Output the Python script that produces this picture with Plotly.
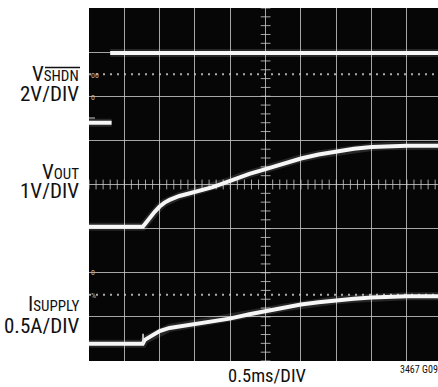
import numpy as np
import plotly.graph_objects as go

# ---- data (time in ms, 0.5 ms/div; vertical values in screen divisions from bottom) ----
vshdn_low_t = [0.0, 0.32]
vshdn_low = [5.40, 5.40]
vshdn_high_t = [0.30, 4.94]
vshdn_high = [6.98, 6.98]

vout_t = [0, 0.76, 0.79, 0.83, 0.87, 0.93, 1.00, 1.07, 1.14, 1.21, 1.28, 1.40, 1.52,
          1.64, 1.75, 1.87, 1.99, 2.13, 2.27, 2.50, 2.75, 3.00, 3.25, 3.50, 3.75,
          4.00, 4.25, 4.50, 4.94]
vout = [3.04, 3.04, 3.10, 3.19, 3.28, 3.38, 3.50, 3.59, 3.65, 3.70, 3.74, 3.79, 3.84,
        3.89, 3.94, 4.01, 4.08, 4.17, 4.24, 4.35, 4.48, 4.59, 4.68, 4.75, 4.81,
        4.85, 4.87, 4.88, 4.88]

isupply_t = [0, 0.76, 0.79, 0.86, 0.93, 1.00, 1.14, 1.33, 1.52, 1.75, 1.99, 2.27, 2.50,
             2.75, 3.00, 3.25, 3.50, 3.75, 4.00, 4.50, 4.94]
isupply = [0.39, 0.39, 0.48, 0.54, 0.62, 0.68, 0.75, 0.80, 0.85, 0.90, 0.96, 1.06, 1.13,
           1.21, 1.28, 1.33, 1.375, 1.41, 1.44, 1.47, 1.47]
isupply_glitch_t = [0.765, 0.765]
isupply_glitch = [0.40, 0.62]

W, H = 438, 387
ML, MR, MT, MB = 89, 0, 8, 26
XMAX = 4.94
FONT = "Liberation Sans Narrow, Arial Narrow, Roboto Condensed, Liberation Sans, Arial, sans-serif"

fig = go.Figure()

grid_col = "rgba(205,205,205,0.8)"

# dotted reference lines
for yv in (1.5, 6.5):
    fig.add_trace(go.Scatter(x=[0, XMAX], y=[yv, yv], mode="lines",
                             line=dict(color="rgba(200,200,200,0.85)", width=2, dash="2px,5px"),
                             hoverinfo="skip", showlegend=False))

# minor ticks on center graticule lines
mx = np.arange(0, XMAX, 0.1)
fig.add_trace(go.Scatter(x=mx, y=[4] * len(mx), mode="markers",
                         marker=dict(symbol="line-ns", size=7, line=dict(color=grid_col, width=1)),
                         hoverinfo="skip", showlegend=False))
my = np.arange(0, 8.01, 0.2)
fig.add_trace(go.Scatter(x=[2.5] * len(my), y=my, mode="markers",
                         marker=dict(symbol="line-ew", size=7, line=dict(color=grid_col, width=1)),
                         hoverinfo="skip", showlegend=False))

def trace(t, v, w=4):
    fig.add_trace(go.Scatter(x=t, y=v, mode="lines",
                             line=dict(color="rgba(255,255,255,0.13)", width=w + 4),
                             hoverinfo="skip", showlegend=False))
    fig.add_trace(go.Scatter(x=t, y=v, mode="lines",
                             line=dict(color="#f6f6f6", width=w),
                             hoverinfo="skip", showlegend=False))

trace(vshdn_low_t, vshdn_low)
trace(vshdn_high_t, vshdn_high)
trace(vout_t, vout)
trace(isupply_t, isupply)
fig.add_trace(go.Scatter(x=isupply_glitch_t, y=isupply_glitch, mode="lines",
                         line=dict(color="#e8e8e8", width=1.5),
                         hoverinfo="skip", showlegend=False))

PW, PH = W - ML - MR, H - MT - MB

def px(x):
    return (x - ML) / PW

def py(y):
    return (H - MB - y) / PH

def label(text, xr, yc, size=21, anchor="right"):
    fig.add_annotation(text=text, x=px(xr), y=py(yc), xref="paper", yref="paper",
                       xanchor=anchor, yanchor="middle", showarrow=False,
                       font=dict(family=FONT, size=size, color="#111"))

label("V<span style='font-size:15px'>SHDN</span>", 81, 74)
label("2V/DIV", 81, 94)
label("V<span style='font-size:15px'>OUT</span>", 81, 172)
label("1V/DIV", 81, 191)
label("I<span style='font-size:15px'>SUPPLY</span>", 81, 304)
label("0.5A/DIV", 81, 326)
label("0.5ms/DIV", 267, 376, size=18.5, anchor="center")
label("3467 G09", 398, 370, size=10, anchor="left")

# overline over SHDN
fig.add_shape(type="line", xref="paper", yref="paper",
              x0=px(45), x1=px(80), y0=py(67.5), y1=py(67.5),
              line=dict(color="#111", width=1.3))

# small channel markers at screen's left edge
for yy, tx in ((75, "00"), (97, "0"), (272, "0"), (295, "%")):
    fig.add_annotation(text=tx, x=px(89), y=py(yy), xref="paper", yref="paper",
                       xanchor="left", yanchor="middle", showarrow=False,
                       font=dict(family=FONT, size=8, color="#bbbbbb"))
fig.add_shape(type="line", xref="paper", yref="paper",
              x0=px(89), x1=px(95), y0=py(118), y1=py(118),
              line=dict(color="#ccc", width=1))

fig.update_layout(
    width=W, height=H,
    margin=dict(l=ML, r=MR, t=MT, b=MB, pad=0),
    paper_bgcolor="white", plot_bgcolor="#060606",
    showlegend=False,
    xaxis=dict(range=[0, XMAX], tick0=0, dtick=0.5, showgrid=True, gridcolor=grid_col,
               gridwidth=1, zeroline=False, showticklabels=False, ticks="", fixedrange=True),
    yaxis=dict(range=[0, 8], tick0=0, dtick=1, showgrid=True, gridcolor=grid_col,
               gridwidth=1, zeroline=False, showticklabels=False, ticks="", fixedrange=True),
)

fig.write_html("out.html", config={"displayModeBar": False},
               post_script="document.body.style.margin='0';document.body.style.overflow='hidden';")
